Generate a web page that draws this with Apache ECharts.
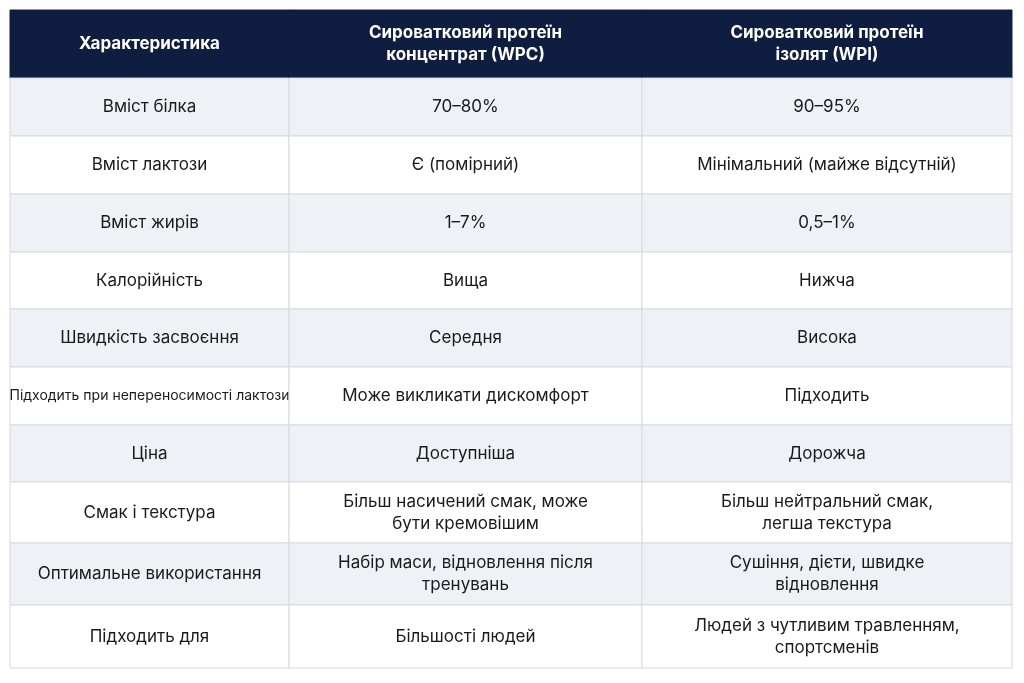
<!DOCTYPE html><html><head><meta charset="utf-8"><script src="https://cdn.jsdelivr.net/npm/echarts@6/dist/echarts.min.js"></script>
<style>html,body{margin:0;background:#fff}#c{width:1024px;height:683px}</style></head><body><div id="c"></div><script>
const headers=['Характеристика','Сироватковий протеїн\nконцентрат (WPC)','Сироватковий протеїн\nізолят (WPI)'];
const characteristics=['Вміст білка','Вміст лактози','Вміст жирів','Калорійність','Швидкість засвоєння','Підходить при непереносимості лактози','Ціна','Смак і текстура','Оптимальне використання','Підходить для'];
const wpc=['70–80%','Є (помірний)','1–7%','Вища','Середня','Може викликати дискомфорт','Доступніша','Більш насичений смак, може\nбути кремовішим','Набір маси, відновлення після\nтренувань','Більшості людей'];
const wpi=['90–95%','Мінімальний (майже відсутній)','0,5–1%','Нижча','Висока','Підходить','Дорожча','Більш нейтральний смак,\nлегша текстура','Сушіння, дієти, швидке\nвідновлення','Людей з чутливим травленням,\nспортсменів'];
const cols=[characteristics,wpc,wpi];
const data=[];
for(let c=0;c<3;c++){data.push([c,0,headers[c]]);for(let r=0;r<characteristics.length;r++)data.push([c,r+1,cols[c][r]]);}
const colEdges=[10,289,642,1012];
const rowTop=[10,78,136,194,252,309,367,425,482,543,605,668];
const chart=echarts.init(document.getElementById('c'));
chart.setOption({
 grid:{left:10,right:12,top:10,bottom:15},
 xAxis:{type:'category',data:[0,1,2],show:false},
 yAxis:{type:'category',data:[0,1,2,3,4,5,6,7,8,9,10],inverse:true,show:false},
 series:[{type:'custom',data:data,renderItem:function(p,api){
  const c=api.value(0),r=api.value(1),t=api.value(2);
  const x0=colEdges[c],x1=colEdges[c+1],y0=rowTop[r],y1=rowTop[r+1];
  const head=r===0;
  const fill=head?'#0f1d40':(r%2===1?'#eef1f6':'#ffffff');
  let fs=17;if(!head&&c===0&&r===6)fs=14;
  return {type:'group',children:[
   {type:'rect',shape:{x:x0,y:y0,width:x1-x0,height:y1-y0},style:{fill:fill,stroke:head?'#0f1d40':'#d5d9e0',lineWidth:1}},
   {type:'text',style:{x:(x0+x1)/2,y:(y0+y1)/2,text:t,align:'center',verticalAlign:'middle',fill:head?'#ffffff':'#1a1a1a',fontSize:fs,fontWeight:head?'bold':'normal',fontFamily:'Inter, Roboto, sans-serif',lineHeight:fs+5}}
  ]};
 }}]
});
</script></body></html>
